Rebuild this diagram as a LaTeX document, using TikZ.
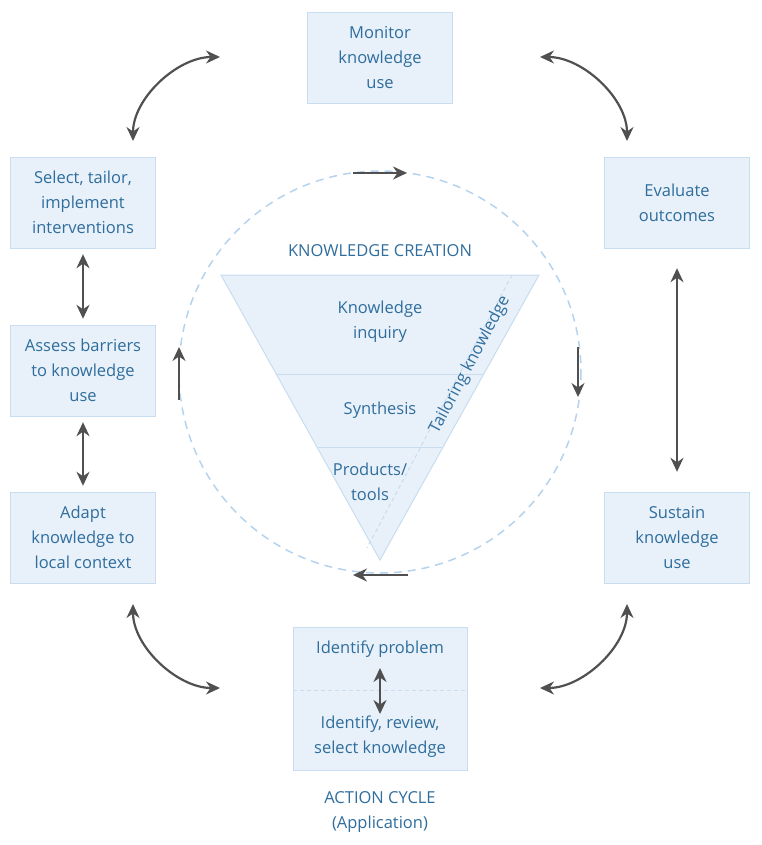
\documentclass[tikz,border=0pt]{standalone}
\usepackage{fontspec}
\setmainfont{Open Sans}
\usetikzlibrary{arrows.meta}
\definecolor{bfill}{HTML}{E8F1FA}
\definecolor{bline}{HTML}{C8DDF0}
\definecolor{btext}{HTML}{2F6D9C}
\definecolor{arr}{HTML}{505050}
\definecolor{circ}{HTML}{B5D3EE}
\begin{document}
\begin{tikzpicture}[x=1pt,y=-1pt,
  box/.style={draw=bline,fill=bfill,minimum width=145pt,minimum height=91pt,align=center,text=btext,font=\fontsize{16.5}{25}\selectfont,inner sep=2pt},
  lbl/.style={text=btext,font=\fontsize{16.5}{25}\selectfont,align=center},
  da/.style={draw=arr,line width=2.2pt,{Stealth[length=14pt,width=13pt]}-{Stealth[length=14pt,width=13pt]}},
  sa/.style={draw=arr,line width=2.2pt,-{Stealth[length=14pt,width=13pt]}}]
\useasboundingbox (0,0) rectangle (761,845);
% circle
\draw[circ,line width=1.5pt,dash pattern=on 8pt off 6pt] (380,372) circle (201);
% triangle
\coordinate (tl) at (221,275);
\coordinate (tr) at (539,275);
\coordinate (tb) at (380,560);
\fill[bfill] (tl)--(tr)--(tb)--cycle;
\draw[bline,line width=1pt] (tl)--(tr)--(tb)--cycle;
\draw[bline,line width=1pt] (276,374)--(484,374);
\draw[bline,line width=1pt] (317,447)--(443,447);
\draw[bline,line width=1pt,dash pattern=on 4pt off 3pt] (512,275)--(367,548);
\node[lbl] (kc) at (380,251) {KNOWLEDGE CREATION};
\node[lbl] (ki) at (380,322) {Knowledge\\inquiry};
\node[lbl] (sy) at (380,410) {Synthesis};
\node[lbl] (pt) at (370,482) {Products/\\tools};
\node[lbl,rotate=62] (tk) at (470,365) {Tailoring knowledge};
% boxes
\node[box] (mon) at (380,57.5) {Monitor\\knowledge\\use};
\node[box] (sel) at (83,202.5) {Select, tailor,\\implement\\interventions};
\node[box] (eva) at (677,202.5) {Evaluate\\outcomes};
\node[box] (ass) at (83,370.5) {Assess barriers\\to knowledge\\use};
\node[box] (ada) at (83,537.5) {Adapt\\knowledge to\\local context};
\node[box] (sus) at (677,537.5) {Sustain\\knowledge\\use};
\node[box,minimum width=174pt,minimum height=143pt] (idb) at (380,698.5) {};
\draw[bline,line width=1pt,dash pattern=on 4pt off 3pt] (293,690)--(467,690);
\node[lbl] (ip) at (380,649) {Identify problem};
\node[lbl] (ir) at (380,737) {Identify, review,\\select knowledge};
\node[lbl] (ac) at (380,812) {ACTION CYCLE\\(Application)};
% straight arrows
\draw[da] ([yshift=-6pt]sel.south) -- ([yshift=6pt]ass.north);
\draw[da] ([yshift=-6pt]ass.south) -- ([yshift=6pt]ada.north);
\draw[da] ([yshift=-20pt]eva.south) -- ([yshift=20pt]sus.north);
\draw[da] (380,668) -- (380,714);
% curved arrows
\coordinate (a1) at (220,57); \coordinate (a2) at (133,141);
\coordinate (b1) at (540,57); \coordinate (b2) at (627,141);
\coordinate (c1) at (133,604); \coordinate (c2) at (220,688);
\coordinate (d1) at (540,688); \coordinate (d2) at (627,604);
\draw[da] (a1) to[out=180,in=90,looseness=0.9] (a2);
\draw[da] (b1) to[out=0,in=90,looseness=0.9] (b2);
\draw[da] (c1) to[out=-90,in=180,looseness=0.9] (c2);
\draw[da] (d1) to[out=0,in=-90,looseness=0.9] (d2);
% circle arrows
\coordinate (p1) at (353,173); \coordinate (p2) at (407,173);
\coordinate (q1) at (578,347); \coordinate (q2) at (578,397);
\coordinate (r1) at (408,575); \coordinate (r2) at (353,575);
\coordinate (s1) at (179,400); \coordinate (s2) at (179,347);
\draw[sa] (p1)--(p2);
\draw[sa] (q1)--(q2);
\draw[sa] (r1)--(r2);
\draw[sa] (s1)--(s2);
\end{tikzpicture}
\end{document}
